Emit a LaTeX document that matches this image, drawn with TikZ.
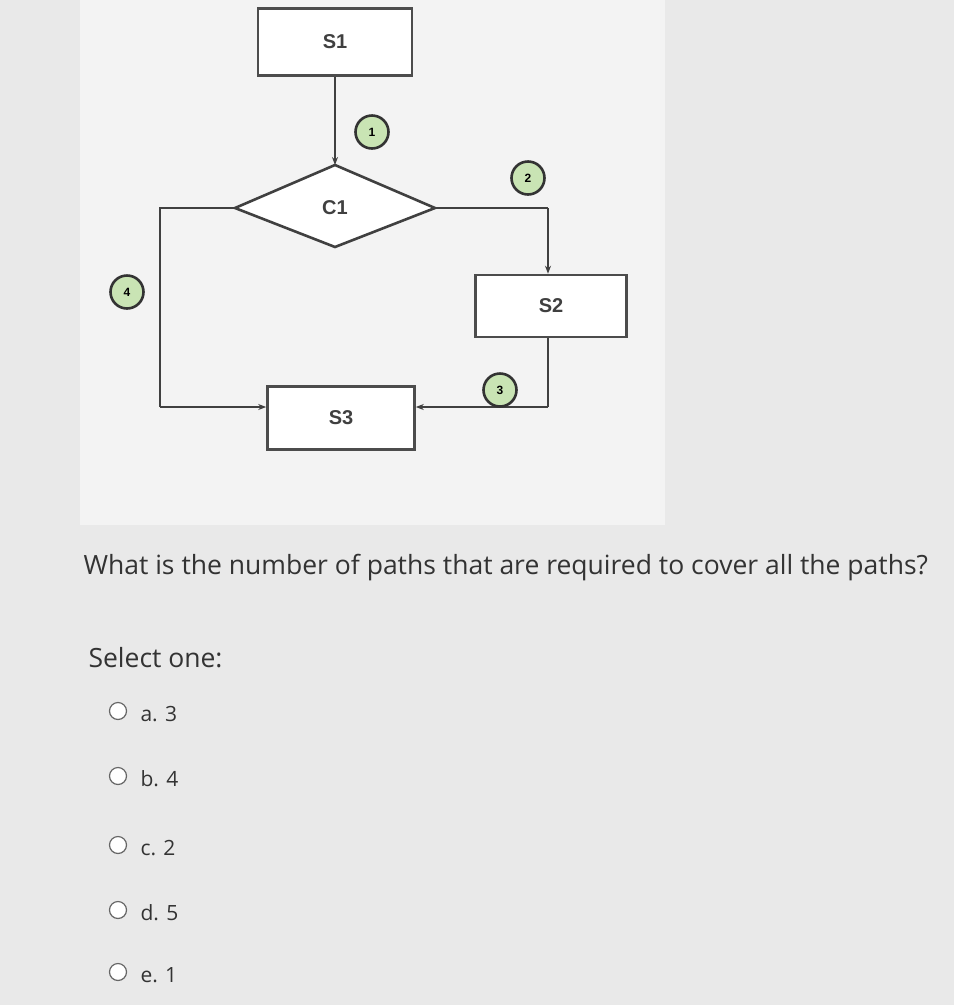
\documentclass[tikz,border=0pt]{standalone}
\usepackage{fontspec}
\setmainfont{Open Sans}
\newfontfamily\lab{Liberation Sans}
\usetikzlibrary{arrows.meta}
\definecolor{pg}{HTML}{E9E9E9}
\definecolor{dg}{HTML}{F3F3F3}
\definecolor{cg}{HTML}{C9E4B4}
\tikzset{x=1pt,y=-1pt,
 box/.style={draw=black!70,line width=2.6pt,fill=white,font=\lab\bfseries\fontsize{20}{22}\selectfont,text=black!75},
 num/.style={circle,draw=black!80,line width=2.6pt,fill=cg,minimum size=33pt,inner sep=0pt,font=\lab\bfseries\fontsize{12}{12}\selectfont},
 ln/.style={draw=black!75,line width=2.6pt},
 ar/.style={ln,-{Stealth[length=8pt]}},
 txt/.style={anchor=west,text=black!80,font=\fontsize{26.5}{30}\selectfont},
 radio/.style={circle,draw=black!60,line width=1.2pt,fill=white,minimum size=17pt,inner sep=0pt}}
\begin{document}
\begin{tikzpicture}
\useasboundingbox (0,0) rectangle (954,1005);
\fill[pg] (0,0) rectangle (954,1005);
\fill[dg] (80,0) rectangle (665,525);
\node[box,minimum width=154pt,minimum height=67pt] (s1) at (335,42) {S1};
\draw[ln,fill=white] (235,208) coordinate (dl) -- (335,165) coordinate (dt) -- (435,208) coordinate (dr) -- (335,247) -- cycle;
\node[box,fill=none,draw=none] (c1) at (335,208) {C1};
\node[box,minimum width=151pt,minimum height=62pt] (s2) at (551,306) {S2};
\node[box,minimum width=147pt,minimum height=63pt] (s3) at (341,418) {S3};
\coordinate (lc) at (160,208);
\coordinate (rc) at (548,208);
\coordinate (lb) at (160,407);
\coordinate (rb) at (548,407);
\draw[ar] (s1.south) -- (dt);
\draw[ln] (dl) -- (lc) -- (lb);
\draw[ar] (lb) -- (s3.west|-lb);
\draw[ln] (dr) -- (rc);
\draw[ar] (rc) -- (rc|-s2.north);
\draw[ln] (rc|-s2.south) -- (rb);
\draw[ar] (rb) -- (s3.east|-rb);
\node[num] (n1) at (372,132) {1};
\node[num] (n2) at (528,178) {2};
\node[num] (n3) at (500,390) {3};
\node[num] (n4) at (127,292) {4};
\node[txt] (q) at (80,568) {What is the number of paths that are required to cover all the paths?};
\node[txt] (sel) at (85,658) {Select one:};
\foreach \y/\l/\n in {711/a. 3/a,776/b. 4/b,845/c. 2/c,910/d. 5/d,972/e. 1/e}{
 \node[radio] (r\n) at (118,\y) {};
 \node[txt,font=\fontsize{21}{24}\selectfont] (o\n) at (137,\y+3) {\l};
}
\end{tikzpicture}
\end{document}
